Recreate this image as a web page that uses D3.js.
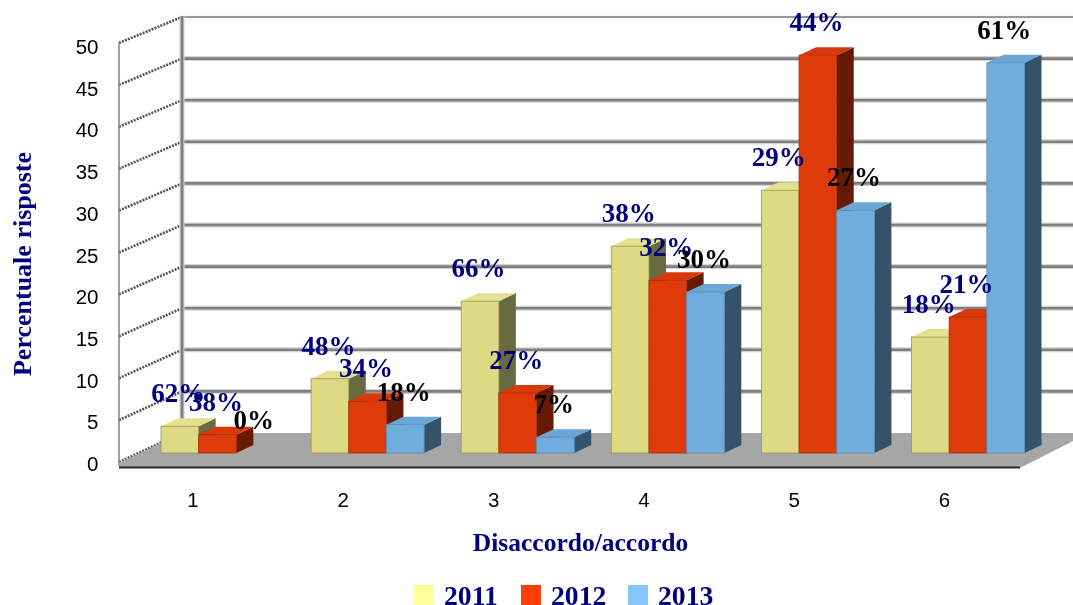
<!DOCTYPE html>
<html><head><meta charset="utf-8">
<script src="https://cdn.jsdelivr.net/npm/d3@7"></script>
<style>
html,body{margin:0;padding:0;background:#fff;overflow:hidden}
svg{display:block;filter:blur(0.6px)}
</style></head><body>
<svg id="c" width="1073" height="605"></svg>
<script>
const categories = ["1","2","3","4","5","6"];
const seriesNames = ["2011","2012","2013"];
const values2011 = [3.2, 8.9, 18.2, 24.8, 31.5, 13.9];
const values2012 = [2.2, 6.2, 7.2, 20.7, 47.7, 16.3];
const values2013 = [0, 3.4, 1.9, 19.3, 29.1, 46.8];
const labels2011 = ["62%","48%","66%","38%","29%","18%"];
const labels2012 = ["38%","34%","27%","32%","44%","21%"];
const labels2013 = ["0%","18%","7%","30%","27%","61%"];
const yTicks = [0,5,10,15,20,25,30,35,40,45,50];

const frontFace = ["#DDDA83","#DF3A0A","#6FADDC"];
const sideFace  = ["#6A6A40","#661A02","#355268"];
const topFace   = ["#E3E08F","#D9380A","#6AA6D6"];
const edge      = ["#9a974f","#a82d07","#5a90ba"];
const legendCol = ["#FFFF99","#FF3E0A","#85C6FF"];
const labelCol  = ["#00007F","#00007F","#000000"];
const navy = "#00007F";

const series = [values2011, values2012, values2013];
const labelsBy = [labels2011, labels2012, labels2013];

const svg = d3.select("#c");
const yFront = d3.scaleLinear().domain([0,50]).range([462,43]);
const yBack  = d3.scaleLinear().domain([0,50]).range([433,17]);
const barH   = d3.scaleLinear().domain([0,50]).range([0,417]);
const floorY = 453, dx = 17, dy = 8;
const groupStep = 150.1, groupStart = 161;
const xCat = d3.scaleLinear().domain([0,5]).range([groupStart, groupStart + 5*groupStep]);
const xSer = d3.scaleBand().domain(d3.range(3)).range([0,113]);

// walls
const wall = svg.append("g");
yTicks.filter(t=>t>0).forEach(t=>{
  wall.append("line").attr("x1",182).attr("x2",1073).attr("y1",yBack(t)).attr("y2",yBack(t))
    .attr("stroke",t===50?"#e0e0e0":"#d4d4d4").attr("stroke-width",t===50?2.5:5);
  wall.append("line").attr("x1",182).attr("x2",1073).attr("y1",yBack(t)).attr("y2",yBack(t))
    .attr("stroke","#808080").attr("stroke-width",t===50?1.6:2.6);
});
yTicks.forEach(t=>{
  wall.append("line").attr("x1",119).attr("x2",182).attr("y1",yFront(t)).attr("y2",yBack(t))
    .attr("stroke","#555").attr("stroke-width",2.6).attr("stroke-dasharray","2 1.2");
});
wall.append("line").attr("x1",182).attr("x2",182).attr("y1",16).attr("y2",433).attr("stroke","#d4d4d4").attr("stroke-width",5);
wall.append("line").attr("x1",182).attr("x2",182).attr("y1",16).attr("y2",433).attr("stroke","#808080").attr("stroke-width",2.8);
wall.append("line").attr("x1",119).attr("x2",119).attr("y1",43).attr("y2",466).attr("stroke","#7a7a7a").attr("stroke-width",1.4);

// floor
const floorPts = [[119,463],[182,433],[1073,433],[1073,441],[1020,468],[119,468]];
svg.append("polygon").attr("points",floorPts.join(" ")).attr("fill","#A6A6A6");
svg.append("line").attr("x1",119).attr("x2",1020).attr("y1",467.5).attr("y2",467.5).attr("stroke","#2a2a2a").attr("stroke-width",2);

// bars
const bars = svg.append("g");
const pts = a => a.map(p=>p.join(",")).join(" ");
categories.forEach((c,i)=>{
  series.forEach((vals,s)=>{
    const v = vals[i];
    if(!(v>0)) return;
    const x0 = xCat(i)+xSer(s), w = xSer.bandwidth(), x1 = x0+w;
    const t = floorY - barH(v), b = floorY;
    const g = bars.append("g");
    g.append("polygon").attr("points",pts([[x1,t],[x1+dx,t-dy],[x1+dx,b-dy],[x1,b]])).attr("fill",sideFace[s]);
    g.append("polygon").attr("points",pts([[x0,t],[x0+dx,t-dy],[x1+dx,t-dy],[x1,t]])).attr("fill",topFace[s]);
    g.append("rect").attr("x",x0).attr("y",t).attr("width",w).attr("height",b-t)
      .attr("fill",frontFace[s]).attr("stroke",edge[s]).attr("stroke-width",0.8);
  });
});

// axes
const yAxis = d3.axisLeft(d3.scaleLinear().domain([0,50]).range([464,47])).tickValues(yTicks).tickSize(0).tickPadding(0);
const yg = svg.append("g").attr("transform","translate(98.5,0)").call(yAxis);
yg.select(".domain").remove();
yg.selectAll("text").attr("font-family","'Liberation Sans'").attr("font-size",20.5).attr("fill","#000");

const xAxis = d3.axisBottom(d3.scalePoint().domain(categories).range([192.5,944])).tickSize(0).tickPadding(0);
const xg = svg.append("g").attr("transform","translate(0,492)").call(xAxis);
xg.select(".domain").remove();
xg.selectAll("text").attr("font-family","'Liberation Sans'").attr("font-size",20.5).attr("fill","#000");

// data labels
const serif = "'Liberation Serif'";
const labelLayer = svg.append("g");
categories.forEach((c,i)=>{
  series.forEach((vals,s)=>{
    labelLayer.append("text")
      .attr("x", xCat(i)+xSer(s)+xSer.bandwidth()/2-1.5)
      .attr("y", floorY - barH(vals[i]) - 24)
      .attr("text-anchor","middle")
      .attr("font-family",serif).attr("font-weight","bold").attr("font-size",27)
      .attr("fill",labelCol[s]).text(labelsBy[s][i]);
  });
});

// titles
svg.append("text").attr("transform","translate(31,264) rotate(-90)").attr("text-anchor","middle")
  .attr("font-family",serif).attr("font-weight","bold").attr("font-size",26).attr("fill",navy).text("Percentuale risposte");
svg.append("text").attr("x",580.5).attr("y",551).attr("text-anchor","middle")
  .attr("font-family",serif).attr("font-weight","bold").attr("font-size",25.5).attr("fill",navy).text("Disaccordo/accordo");

// legend
const legendX = d3.scalePoint().domain(seriesNames).range([414,628]);
seriesNames.forEach((n,s)=>{
  svg.append("rect").attr("x",legendX(n)).attr("y",585).attr("width",20).attr("height",20).attr("fill",legendCol[s]);
  svg.append("text").attr("x",legendX(n)+30).attr("y",604.5)
    .attr("font-family",serif).attr("font-weight","bold").attr("font-size",27.7).attr("fill",navy).text(n);
});
</script>
</body></html>
